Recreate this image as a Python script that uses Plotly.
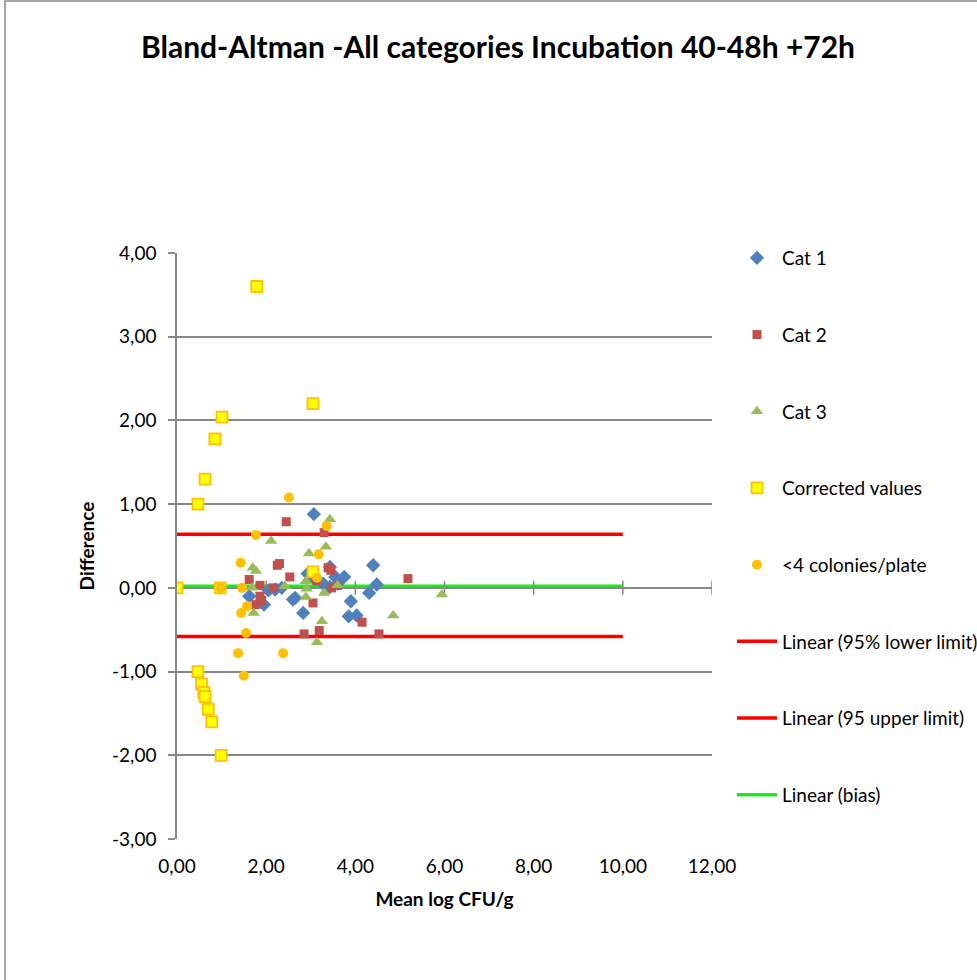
import plotly.graph_objects as go

# ---- data ----
cat1_x = [1.62, 1.95, 2.05, 2.20, 2.35, 2.65, 2.60, 2.83, 2.93, 3.07, 3.10, 3.28, 3.43, 3.43, 3.55, 3.60, 3.75, 4.40, 4.48, 4.31, 3.90, 3.85, 4.03]
cat1_y = [-0.10, -0.20, -0.03, -0.02, 0.00, -0.12, -0.14, -0.30, 0.17, 0.88, 0.10, 0.05, 0.25, 0.01, 0.13, 0.05, 0.13, 0.27, 0.04, -0.06, -0.16, -0.34, -0.33]

cat2_x = [1.62, 1.86, 1.86, 1.77, 1.90, 2.16, 2.25, 2.30, 2.45, 2.53, 3.30, 3.39, 3.45, 3.13, 3.47, 3.05, 2.85, 3.19, 4.15, 4.53, 5.18, 3.60]
cat2_y = [0.10, 0.03, -0.10, -0.20, -0.15, 0.00, 0.27, 0.29, 0.79, 0.13, 0.66, 0.24, 0.21, 0.09, 0.00, -0.18, -0.55, -0.51, -0.41, -0.55, 0.11, 0.03]

cat3_x = [1.70, 1.77, 1.68, 1.72, 2.11, 2.42, 2.89, 2.91, 2.89, 2.96, 3.34, 3.43, 3.30, 3.60, 3.25, 3.14, 4.85, 5.94]
cat3_y = [0.24, 0.20, 0.00, -0.30, 0.56, 0.02, 0.08, -0.01, -0.11, 0.41, 0.49, 0.82, -0.06, 0.03, -0.40, -0.65, -0.33, -0.08]

corr_x = [1.79, 1.01, 0.85, 0.63, 0.47, 0.00, 0.97, 3.05, 3.05, 0.47, 0.55, 0.60, 0.63, 0.70, 0.78, 0.99]
corr_y = [3.60, 2.04, 1.78, 1.30, 1.00, 0.00, 0.00, 2.20, 0.19, -1.00, -1.15, -1.25, -1.30, -1.45, -1.60, -2.00]

low_x = [2.51, 1.77, 1.43, 0.98, 1.46, 1.57, 1.44, 1.55, 1.37, 2.38, 1.50, 3.36, 3.18, 3.14]
low_y = [1.08, 0.63, 0.30, 0.00, 0.00, -0.22, -0.30, -0.54, -0.78, -0.78, -1.05, 0.74, 0.40, 0.12]

line_x = [0, 10]
lower_limit = -0.58
upper_limit = 0.64
bias = 0.02

x_ticks = [0, 2, 4, 6, 8, 10, 12]
y_ticks = [-3, -2, -1, 0, 1, 2, 3, 4]


def fmt(v):
    return f"{v:.2f}".replace(".", ",")


FONT = "Lato"
GRID = "#888888"
FS = 19

fig = go.Figure()

# trend lines (drawn first, listed last in legend)
fig.add_trace(go.Scatter(x=line_x, y=[lower_limit] * 2, mode="lines", name="Linear (95% lower limit)",
                         line=dict(color="#FF0000", width=3.5), legendrank=6, legendgroup="g6"))
fig.add_trace(go.Scatter(x=line_x, y=[upper_limit] * 2, mode="lines", name="Linear (95 upper limit)",
                         line=dict(color="#FF0000", width=3.5), legendrank=7, legendgroup="g7"))
fig.add_trace(go.Scatter(x=line_x, y=[bias] * 2, mode="lines", name="Linear (bias)",
                         line=dict(color="#22E622", width=3.5), legendrank=8, legendgroup="g8"))

# horizontal axis line crossing at y = 0
fig.add_trace(go.Scatter(x=[x_ticks[0], x_ticks[-1]], y=[0, 0], mode="lines", showlegend=False,
                         line=dict(color=GRID, width=1.5), hoverinfo="skip"))
fig.add_trace(go.Scatter(x=x_ticks[1:], y=[0] * (len(x_ticks) - 1), mode="markers", showlegend=False,
                         marker=dict(symbol="line-ns", size=10, line=dict(color=GRID, width=1.5)),
                         hoverinfo="skip"))

fig.add_trace(go.Scatter(x=cat1_x, y=cat1_y, mode="markers", name="Cat 1", legendrank=1, legendgroup="g1",
                         marker=dict(symbol="diamond", size=11, color="#4F81BD")))
fig.add_trace(go.Scatter(x=cat2_x, y=cat2_y, mode="markers", name="Cat 2", legendrank=2, legendgroup="g2",
                         marker=dict(symbol="square", size=9, color="#C0504D")))
fig.add_trace(go.Scatter(x=cat3_x, y=cat3_y, mode="markers", name="Cat 3", legendrank=3, legendgroup="g3",
                         marker=dict(symbol="triangle-up", size=11, color="#9BBB59")))
fig.add_trace(go.Scatter(x=corr_x, y=corr_y, mode="markers", name="Corrected values", legendrank=4, legendgroup="g4",
                         marker=dict(symbol="square", size=11, color="#FFFF00", line=dict(color="#FFC000", width=1.8))))
fig.add_trace(go.Scatter(x=low_x, y=low_y, mode="markers", name="<4 colonies/plate", legendrank=5, legendgroup="g5",
                         marker=dict(symbol="circle", size=10, color="#FFC000")))

fig.update_layout(
    width=977, height=980,
    margin=dict(l=177, r=265, t=253, b=141, autoexpand=False),
    paper_bgcolor="white", plot_bgcolor="white",
    font=dict(family=FONT, size=FS, color="#000000"),
    title=dict(text="<b>Bland-Altman -All categories Incubation 40-48h +72h</b>",
               x=498 / 977, xanchor="center", xref="container", y=1 - 47 / 980, yanchor="middle",
               font=dict(family=FONT, size=30, color="#000000")),
    showlegend=True,
    legend=dict(x=(732 - 177) / 535, xanchor="left", y=(839 - 239) / 586, yanchor="top",
                tracegroupgap=49, font=dict(family=FONT, size=FS), bgcolor="rgba(0,0,0,0)",
                itemwidth=40, maxheight=900),
    xaxis=dict(range=[0, 12], tickvals=x_ticks, ticktext=[fmt(v) for v in x_ticks], showgrid=False,
               zeroline=False, showline=False, ticks="", tickfont=dict(size=FS), ticklabelstandoff=14,
               title=dict(text="<b>Mean log CFU/g</b>", font=dict(size=FS), standoff=16)),
    yaxis=dict(range=[-3, 4], tickvals=y_ticks, ticktext=[fmt(v) for v in y_ticks], showgrid=True,
               gridcolor=GRID, gridwidth=1.5,
               zeroline=False, showline=True, linecolor=GRID, linewidth=1.5, ticks="outside", ticklen=7,
               tickcolor=GRID, tickwidth=1.5, tickfont=dict(size=FS), ticklabelstandoff=8,
               title=dict(text="<b>Difference</b>", font=dict(size=FS), standoff=12)),
    shapes=[dict(type="rect", xref="paper", yref="paper",
                 x0=(5 - 177) / 535, x1=(995 - 177) / 535, y0=(839 - 995) / 586, y1=(839 - 1) / 586,
                 line=dict(color="#888888", width=1.5), fillcolor="rgba(0,0,0,0)", layer="below")],
)

fig.write_html("out.html")
